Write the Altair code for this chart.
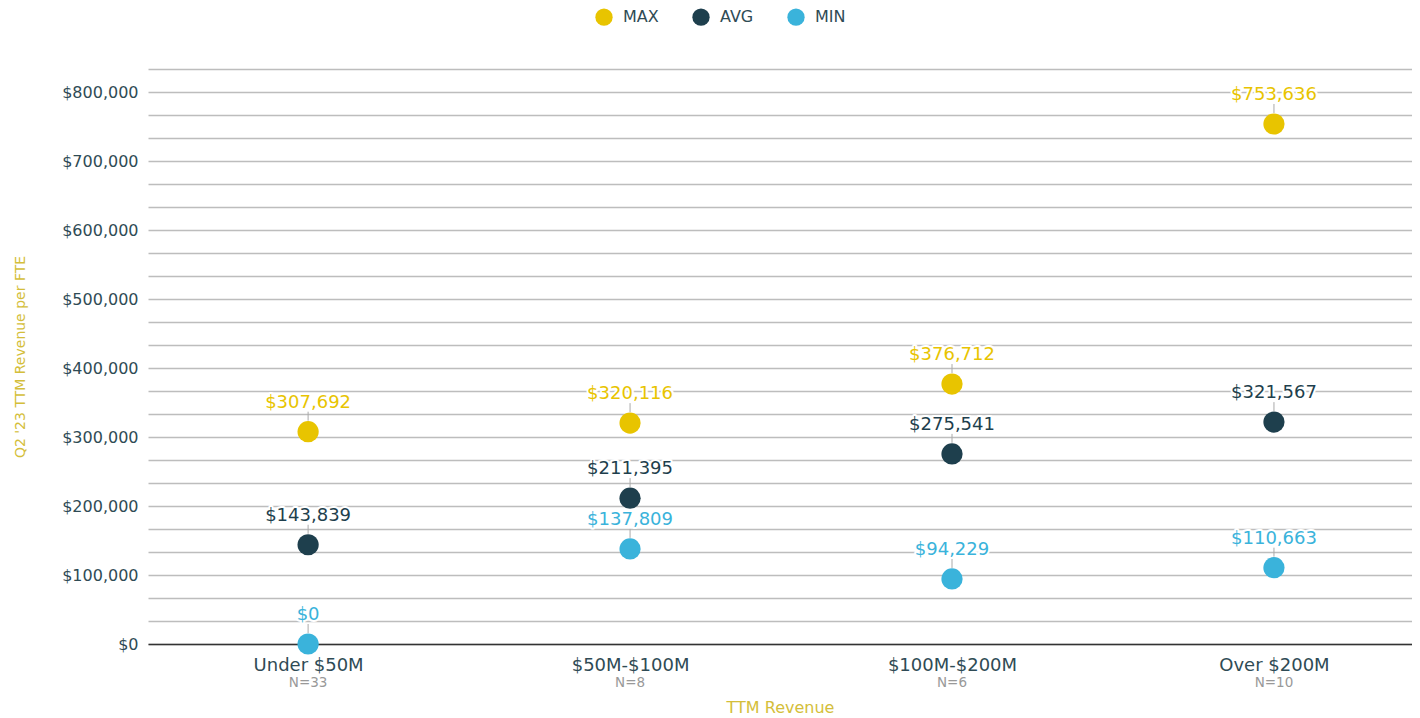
import altair as alt
import pandas as pd

categories = ["Under $50M", "$50M-$100M", "$100M-$200M", "Over $200M"]
n_labels = ["N=33", "N=8", "N=6", "N=10"]
max_vals = [307692, 320116, 376712, 753636]
avg_vals = [143839, 211395, 275541, 321567]
min_vals = [0, 137809, 94229, 110663]
series = ["MAX", "AVG", "MIN"]
colors = ["#E8C400", "#1E3F4D", "#3AB3DB"]

rows = []
for s, vals in zip(series, [max_vals, avg_vals, min_vals]):
    for c, v in zip(categories, vals):
        rows.append({"cat": c, "series": s, "value": v, "label": f"${v:,}"})
df = pd.DataFrame(rows)
ndf = pd.DataFrame({"cat": categories, "n": n_labels})

W, H = 1264, 575
ymax = 2500000 / 3
grid_vals = [i * 100000 / 3 for i in range(26)]
FONT = "DejaVu Sans"
DARK = "#2F4B55"
GOLD = "#D4BE3A"

xscale = alt.Scale(type="point", domain=categories, padding=0.463, align=0.537)
yscale = alt.Scale(domain=[0, ymax], nice=False, zero=True)
color_scale = alt.Scale(domain=series, range=colors)

xaxis = alt.Axis(title="TTM Revenue", labelFontSize=18, labelColor=DARK,
                 labelPadding=12, ticks=False, grid=False, domainColor="#333",
                 domainWidth=1.5, labelAngle=0, titleColor=GOLD, titleFontSize=16,
                 titleFontWeight="normal", titlePadding=25, labelFont=FONT,
                 titleFont=FONT)
yaxis = alt.Axis(values=grid_vals, title="Q2 '23 TTM Revenue per FTE",
                 labelExpr="abs(round(datum.value/100000)*100000 - datum.value) < 1 ? format(datum.value, '$,.0f') : ''",
                 labelFontSize=16, labelColor=DARK, labelPadding=10, ticks=False,
                 domain=False, gridColor="#bdbdbd", gridWidth=1.5,
                 titleColor=GOLD, titleFontSize=14, titleFontWeight="normal",
                 titlePadding=34, labelFont=FONT, titleFont=FONT)

X = alt.X("cat:N", scale=xscale, sort=categories, axis=xaxis)
Y = alt.Y("value:Q", scale=yscale, axis=yaxis)

base = alt.Chart(df)

points = base.mark_circle(size=450, opacity=1).encode(
    x=X, y=Y,
    color=alt.Color("series:N", scale=color_scale,
                    legend=alt.Legend(title=None, orient="none", direction="horizontal",
                                      legendX=447, legendY=-61,
                                      symbolType="circle", symbolSize=300, labelFontSize=16,
                                      labelColor=DARK, columnPadding=33, labelOffset=10,
                                      labelFont=FONT, symbolStrokeWidth=0)),
)

leaders = base.mark_rule(color="#aaaaaa", strokeWidth=1, yOffset=-20, y2Offset=-11).encode(
    x=X, y=Y, y2="value:Q",
)

halo = base.mark_text(dy=-29, fontSize=18, font=FONT, stroke="white", strokeWidth=4,
                      strokeJoin="round", fill="white").encode(
    x=X, y=Y, text="label:N",
)

labels = base.mark_text(dy=-29, fontSize=18, font=FONT).encode(
    x=X, y=Y, text="label:N",
    color=alt.Color("series:N", scale=color_scale, legend=None),
)

nlab = alt.Chart(ndf).mark_text(fontSize=13.5, font=FONT, color="#999999").encode(
    x=X,
    y=alt.value(H + 39),
    text="n:N",
)

chart = alt.layer(points, leaders, halo, labels, nlab).properties(
    width=W, height=H,
    padding={"left": 5, "top": 0, "right": 0, "bottom": 0},
).configure_view(stroke=None)

chart.save("out.html", embed_options={"renderer": "svg", "actions": False})
